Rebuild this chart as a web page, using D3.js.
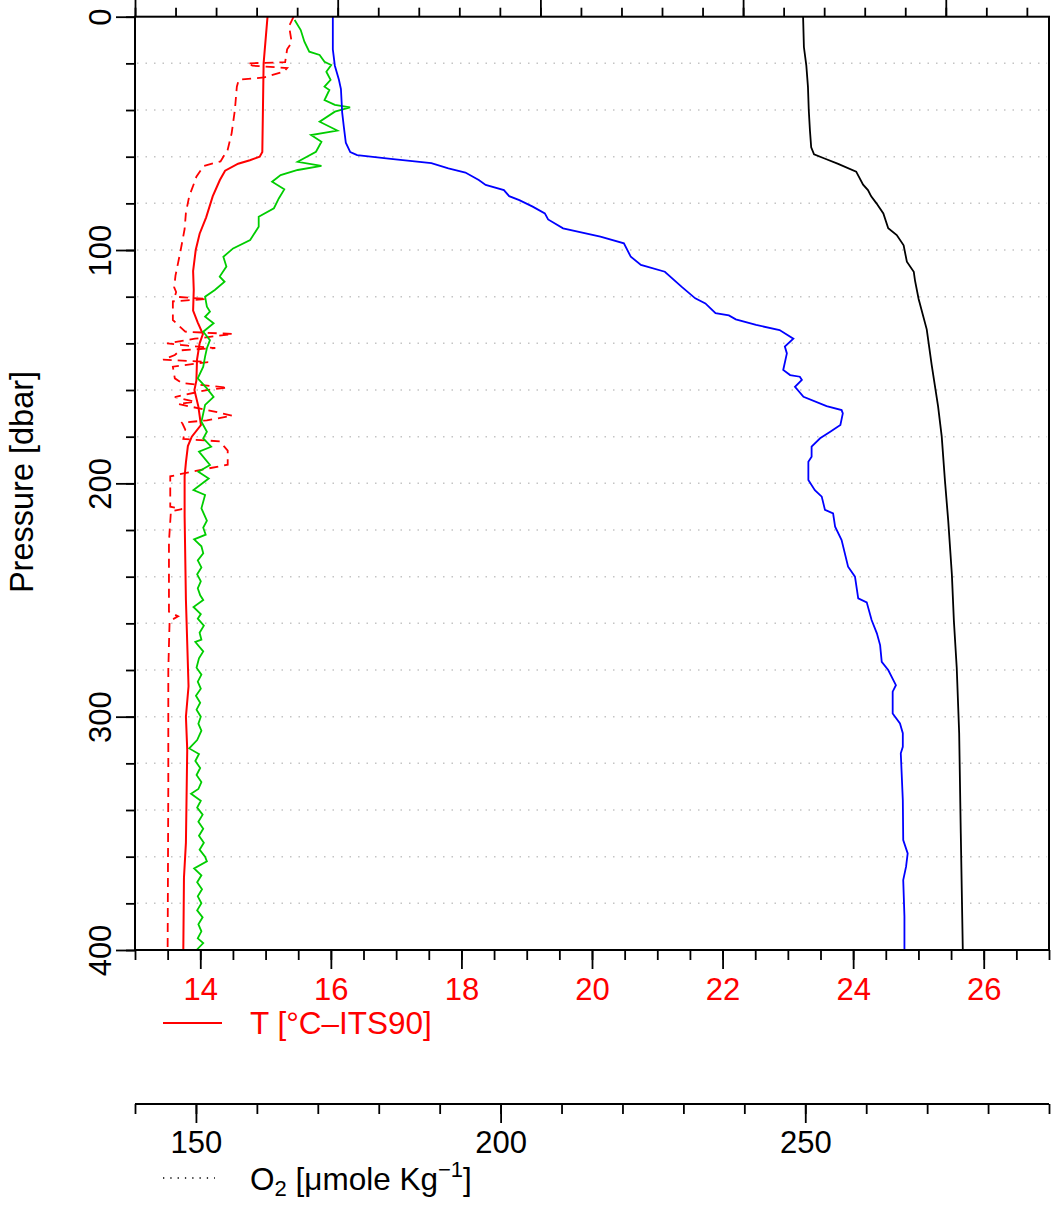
<!DOCTYPE html>
<html>
<head>
<meta charset="utf-8">
<script src="https://cdn.jsdelivr.net/npm/d3@7"></script>
<style>
  body { margin: 0; background: #fff; }
  svg text { font-family: "Liberation Sans", Arial, Helvetica, sans-serif; }
</style>
</head>
<body>
<div id="chart"></div>
<script>
// profile data, [pressure (dbar), value]
const tempSolid = [[0,15.03],[20,14.97],[58,14.95],[60,14.91],[61.5,14.76],[63,14.58],[66,14.38],[70,14.30],[77,14.19],[86,14.09],[93,13.99],[100,13.93],[109,13.89],[117,13.90],[126,13.89],[131,13.96],[136,14.04],[140,13.99],[147,13.95],[156,13.94],[160,13.91],[167,13.97],[175,14.01],[180,13.87],[184,13.81],[191,13.78],[197,13.76],[214,13.76],[250,13.78],[287,13.82],[300,13.78],[314,13.80],[354,13.78],[369,13.75],[400,13.74]];

const tempDashed = [[0,15.43],[4,15.36],[11,15.40],[14,15.33],[19.5,15.30],[20,14.72],[21,14.80],[22,15.33],[23.5,15.28],[26,14.98],[27,14.59],[30,14.56],[40,14.53],[50,14.48],[57,14.42],[62,14.31],[64,14.05],[68.6,13.94],[71,13.91],[77,13.83],[84,13.78],[91,13.76],[100,13.70],[111,13.62],[116,13.60],[118,13.63],[120,13.61],[121,14.10],[122,13.58],[130,13.58],[135,13.77],[136,14.50],[138,13.92],[140,13.49],[141,13.81],[142,14.23],[143,13.69],[145,13.61],[147,13.43],[148,14.12],[150,13.58],[155,13.61],[157,13.72],[159,14.42],[160,14.10],[163,13.61],[165,13.92],[166,13.66],[169,14.18],[171,14.49],[173,14.10],[174,13.72],[177,13.77],[181,13.74],[182,14.30],[186,14.42],[192,14.42],[195,13.87],[197,13.54],[210,13.54],[211,13.72],[212,13.55],[225,13.52],[255,13.52],[257,13.66],[259,13.53],[280,13.51],[330,13.51],[400,13.50]];

const oxygen = [[1.4,166.2],[5.7,167.2],[10.7,167.8],[15,168.6],[16.4,170.3],[19.3,171.1],[20.7,172.2],[23.6,171.4],[27.1,172.1],[30,171.1],[31.4,171.9],[35.7,171.1],[37.8,172.8],[38.9,175.3],[40.7,172.8],[45,170.3],[48.8,173.2],[50.7,168.9],[53.6,170.6],[57.9,169.7],[62.2,166.7],[63.9,170.6],[65.7,166.7],[67.9,163.9],[70.7,162.5],[74,164.5],[77.9,163.6],[82.1,162.8],[85.7,160.3],[90,160.3],[95.7,158.9],[99.3,156.1],[102.9,154.5],[107.1,155.0],[111.4,153.9],[113.6,154.7],[117.1,153.1],[120,151.5],[124.3,151.8],[126.4,152.3],[128.6,151.5],[131.4,152.9],[135,151.2],[138.6,152.3],[142.1,151.8],[145.7,151.5],[150,151.2],[155,150.3],[159.3,151.8],[163,152.9],[166.4,151.5],[173.6,150.9],[177.9,151.8],[180.7,151.2],[184.3,152.5],[186.4,150.5],[192.1,152.3],[195,150.4],[197.9,152.1],[202.9,149.6],[205,151.5],[210.7,150.9],[216,151.8],[219,151.2],[222,151.6],[224,149.7],[227,150.9],[230,151.2],[233,150.3],[236,150.9],[239,150.2],[242,150.8],[245,150.3],[248,150.7],[250,151.2],[253,149.6],[256,150.8],[258,150.3],[261,151.3],[264,150.6],[267,150.9],[268,149.9],[272,151.2],[275,150.5],[279,150.1],[282,150.9],[285,150.3],[288,150.8],[291,150.0],[294,150.7],[297,150.1],[300,150.8],[303,150.4],[306,150.9],[310,150.2],[313.6,148.9],[316,150.5],[319,149.9],[322,150.7],[325,150.1],[328,150.9],[331,150.4],[333,149.2],[336,150.8],[339,150.2],[342,151.1],[345,150.4],[348,151.2],[351,150.5],[354,151.3],[357,150.6],[360,151.5],[362,151.8],[365,149.7],[368,150.9],[371,150.2],[374,151.0],[377,150.3],[380,150.9],[383,150.2],[386,151.1],[389,150.4],[392,150.9],[395,150.3],[397,151.2],[400,150.1]];

const salinity = [[0,35.488],[14,35.488],[21,35.493],[27,35.503],[31,35.508],[41,35.511],[47,35.515],[54,35.520],[58,35.531],[59.3,35.548],[60.9,35.631],[62.8,35.731],[65,35.773],[66.8,35.815],[70,35.848],[72.1,35.865],[74.3,35.910],[76.9,35.923],[78.6,35.948],[81.4,35.981],[84.3,36.011],[86.9,36.019],[90.7,36.056],[94.3,36.148],[97.1,36.206],[102.9,36.223],[106.4,36.248],[109.3,36.307],[115.7,36.348],[120.7,36.382],[122.9,36.407],[127.1,36.432],[128,36.465],[129.7,36.482],[132.1,36.532],[134.3,36.590],[138,36.624],[141.4,36.603],[144.3,36.608],[151.4,36.599],[153.6,36.616],[154.3,36.640],[155.7,36.645],[158.6,36.628],[162.9,36.649],[166.9,36.706],[168.6,36.743],[170,36.746],[175,36.740],[177.9,36.715],[180.7,36.690],[184.3,36.669],[188.6,36.669],[190.7,36.661],[198.6,36.661],[202.9,36.677],[205.7,36.694],[211.4,36.702],[212.9,36.722],[218.6,36.727],[224.3,36.743],[235.7,36.759],[240,36.776],[249.3,36.784],[251,36.805],[258.6,36.817],[264.3,36.830],[269.3,36.838],[276.5,36.842],[280,36.858],[286.5,36.877],[289.3,36.869],[298.6,36.869],[302.9,36.887],[307.1,36.894],[312.9,36.894],[315.7,36.889],[335.7,36.894],[352.9,36.895],[358.6,36.906],[364.3,36.902],[370,36.895],[385.7,36.898],[400,36.898]];

const density = [[0,36.648],[13,36.650],[21,36.656],[30,36.660],[40,36.662],[49,36.665],[56,36.668],[59,36.675],[61,36.704],[63,36.733],[66.4,36.779],[72,36.796],[74.3,36.808],[77,36.816],[80,36.829],[84.3,36.846],[90.7,36.858],[93.6,36.879],[98,36.896],[105,36.904],[109.3,36.921],[113,36.924],[121,36.933],[134,36.953],[149,36.965],[167,36.981],[180,36.990],[199,36.998],[216,37.006],[239,37.015],[259,37.020],[279,37.027],[307,37.033],[350,37.037],[400,37.042]];

// tick values
const pressureLabels = [0, 100, 200, 300, 400];
const pressureMinor = d3.range(0, 401, 20);
const tempLabels = [14, 16, 18, 20, 22, 24, 26];
const tempMinor = d3.range(26, 55).map(d => d / 2);
const oxyLabels = [150, 200, 250];
const oxyMinor = d3.range(140, 291, 10);
const topMajor = [35, 35.5, 36, 36.5, 37];
const topMinor = d3.range(350, 373).map(d => d / 10);

const width = 1061, height = 1205;
const plotLeft = 135, plotRight = 1049, plotTop = 16.7, plotBottom = 950;
const oxyAxisY = 1104;

const svg = d3.select("#chart").append("svg")
  .attr("width", width)
  .attr("height", height);

const y = d3.scaleLinear().domain([0, 400]).range([plotTop, plotBottom]);
const xT = d3.scaleLinear().domain([13, 27]).range([plotLeft, plotRight]);
const xO2 = d3.scaleLinear().domain([140, 290]).range([plotLeft, plotRight]);
const xTop = d3.scaleLinear().domain([35, 37.2546]).range([plotLeft, plotRight]);

// dotted grid
svg.append("g").selectAll("line")
  .data(d3.range(20, 400, 20))
  .join("line")
  .attr("x1", plotLeft + 2).attr("x2", plotRight - 2)
  .attr("y1", d => y(d)).attr("y2", d => y(d))
  .attr("stroke", "#c4c4c4")
  .attr("stroke-width", 1.5)
  .attr("stroke-dasharray", "1.5 7");

// profiles
const line = sx => d3.line().x(d => sx(d[1])).y(d => y(d[0]));

svg.append("path").datum(tempDashed)
  .attr("d", line(xT))
  .attr("fill", "none").attr("stroke", "#ff0000")
  .attr("stroke-width", 1.8).attr("stroke-dasharray", "9 6");

svg.append("path").datum(tempSolid)
  .attr("d", line(xT))
  .attr("fill", "none").attr("stroke", "#ff0000").attr("stroke-width", 2);

svg.append("path").datum(oxygen)
  .attr("d", line(xO2))
  .attr("fill", "none").attr("stroke", "#00cd00").attr("stroke-width", 1.8);

svg.append("path").datum(salinity)
  .attr("d", line(xTop))
  .attr("fill", "none").attr("stroke", "#0000ff").attr("stroke-width", 1.8);

svg.append("path").datum(density)
  .attr("d", line(xTop))
  .attr("fill", "none").attr("stroke", "#000000").attr("stroke-width", 1.8);

// frame
svg.append("rect")
  .attr("x", plotLeft).attr("y", plotTop)
  .attr("width", plotRight - plotLeft).attr("height", plotBottom - plotTop)
  .attr("fill", "none").attr("stroke", "#000").attr("stroke-width", 2);

function styleAxis(g) {
  g.select(".domain").remove();
  g.selectAll("line").attr("stroke", "#000").attr("stroke-width", 1.8);
}

// pressure axis
svg.append("g").attr("transform", `translate(${plotLeft},0)`)
  .call(d3.axisLeft(y).tickValues(pressureMinor).tickSize(9).tickFormat(""))
  .call(styleAxis);
svg.append("g").attr("transform", `translate(${plotLeft},0)`)
  .call(d3.axisLeft(y).tickValues(pressureLabels).tickSize(19))
  .call(styleAxis)
  .call(g => g.selectAll("text")
    .attr("x", 0).attr("y", 0).attr("dy", null)
    .attr("text-anchor", "middle")
    .attr("transform", "translate(-24.5,0) rotate(-90)")
    .attr("fill", "#000")
    .attr("font-size", 31));

svg.append("text")
  .attr("transform", `translate(33,482) rotate(-90)`)
  .attr("text-anchor", "middle")
  .attr("font-size", 32.5)
  .text("Pressure [dbar]");

// top axis (ticks only, labels are outside the frame)
svg.append("g").attr("transform", `translate(0,${plotTop})`)
  .call(d3.axisTop(xTop).tickValues(topMinor).tickSize(9).tickFormat(""))
  .call(styleAxis);
svg.append("g").attr("transform", `translate(0,${plotTop})`)
  .call(d3.axisTop(xTop).tickValues(topMajor).tickSize(20).tickFormat(""))
  .call(styleAxis);

// temperature axis
svg.append("g").attr("transform", `translate(0,${plotBottom})`)
  .call(d3.axisBottom(xT).tickValues(tempMinor).tickSize(10).tickFormat(""))
  .call(styleAxis);
svg.append("g").attr("transform", `translate(0,${plotBottom})`)
  .call(d3.axisBottom(xT).tickValues(tempLabels).tickSize(19))
  .call(styleAxis)
  .call(g => g.selectAll("text")
    .attr("y", 50).attr("dy", null)
    .attr("fill", "#ff0000")
    .attr("font-size", 31));

// temperature legend
svg.append("line")
  .attr("x1", 163).attr("x2", 222).attr("y1", 1023).attr("y2", 1023)
  .attr("stroke", "#ff0000").attr("stroke-width", 1.8);
svg.append("text")
  .attr("x", 250).attr("y", 1034)
  .attr("fill", "#ff0000").attr("font-size", 31.5)
  .text("T [°C–ITS90]");

// oxygen axis
svg.append("line")
  .attr("x1", plotLeft).attr("x2", plotRight).attr("y1", oxyAxisY).attr("y2", oxyAxisY)
  .attr("stroke", "#000").attr("stroke-width", 2);
svg.append("g").attr("transform", `translate(0,${oxyAxisY})`)
  .call(d3.axisBottom(xO2).tickValues(oxyMinor).tickSize(10).tickFormat(""))
  .call(styleAxis);
svg.append("g").attr("transform", `translate(0,${oxyAxisY})`)
  .call(d3.axisBottom(xO2).tickValues(oxyLabels).tickSize(19))
  .call(styleAxis)
  .call(g => g.selectAll("text")
    .attr("y", 49).attr("dy", null)
    .attr("fill", "#000")
    .attr("font-size", 31));

// oxygen legend
svg.append("line")
  .attr("x1", 163).attr("x2", 215).attr("y1", 1178).attr("y2", 1178)
  .attr("stroke", "#000").attr("stroke-width", 1.3)
  .attr("stroke-dasharray", "1.3 6");
const o2 = svg.append("text")
  .attr("x", 250).attr("y", 1190)
  .attr("font-size", 31.5);
o2.append("tspan").text("O");
o2.append("tspan").attr("font-size", 22).attr("dy", 6).text("2");
o2.append("tspan").attr("dy", -6).text(" [μmole Kg");
o2.append("tspan").attr("font-size", 22).attr("dy", -13).text("−1");
o2.append("tspan").attr("dy", 13).text("]");
</script>
</body>
</html>
